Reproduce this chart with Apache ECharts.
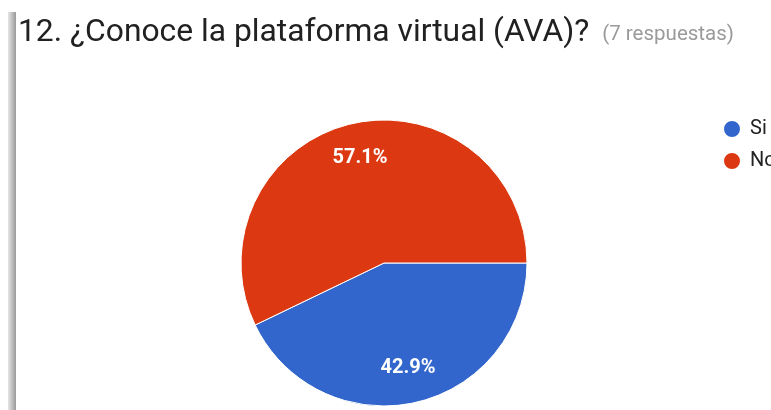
<!DOCTYPE html>
<html>
<head>
<meta charset="utf-8">
<script src="https://cdn.jsdelivr.net/npm/echarts@6/dist/echarts.min.js"></script>
<style>
  html, body { margin: 0; padding: 0; background: #fff; }
  #chart { width: 771px; height: 410px; }
</style>
</head>
<body>
<div id="chart"></div>
<script>
const titleText = '12. ¿Conoce la plataforma virtual (AVA)?'
const subtitleText = '(7 respuestas)'
const categories = ['Si', 'No']
const counts = [3, 4]
const colors = ['#3366cc', '#dc3912']

const CENTER = [384, 263]
const RADIUS = 143

const chart = echarts.init(document.getElementById('chart'))

const pieData = categories.map((name, i) => ({
  name,
  value: counts[i],
  itemStyle: { color: colors[i] },
}))

chart.setOption({
  animation: false,
  title: {
    text: '{t|' + titleText + '}{s|' + subtitleText + '}',
    left: 18,
    top: 17,
    padding: 0,
    textStyle: {
      fontWeight: 'normal',
      rich: {
        t: { fontFamily: 'Roboto', fontSize: 31.8, fontWeight: 'normal', color: '#212121' },
        s: { fontFamily: 'Roboto', fontSize: 20.5, fontWeight: 'normal', color: '#9a9a9a', padding: [3, 0, 0, 13] },
      },
    },
  },
  legend: {
    orient: 'vertical',
    left: 722,
    top: 119,
    padding: 0,
    itemWidth: 18,
    itemHeight: 18,
    itemGap: 12,
    icon: 'circle',
    textStyle: { fontFamily: 'Roboto', fontSize: 20, lineHeight: 18, color: '#222', padding: [0, 0, 0, 4] },
    data: categories,
  },
  graphic: [
    {
      type: 'rect',
      shape: { x: 8, y: 12, width: 8, height: 400 },
      style: {
        fill: new echarts.graphic.LinearGradient(0, 0, 1, 0, [
          { offset: 0, color: '#e6e6e6' },
          { offset: 1, color: '#9a9a9a' },
        ]),
      },
      silent: true,
    },
  ],
  series: [
    {
      type: 'pie',
      center: CENTER,
      radius: RADIUS,
      startAngle: 0,
      clockwise: true,
      data: pieData,
      itemStyle: { borderColor: '#fff', borderWidth: 1 },
      label: { show: false },
      labelLine: { show: false },
      silent: true,
    },
    {
      // invisible ring, only there to put the percent labels at ~0.74 r
      type: 'pie',
      center: CENTER,
      radius: [RADIUS * 0.47, RADIUS],
      startAngle: 0,
      clockwise: true,
      data: categories.map((name, i) => ({ name, value: counts[i] })),
      itemStyle: { color: 'rgba(0,0,0,0)', borderWidth: 0 },
      label: {
        show: true,
        position: 'inside',
        formatter: p => p.percent.toFixed(1) + '%',
        fontFamily: 'Roboto',
        fontSize: 20,
        fontWeight: 'bold',
        color: '#fff',
      },
      labelLine: { show: false },
      silent: true,
    },
  ],
})
</script>
</body>
</html>
